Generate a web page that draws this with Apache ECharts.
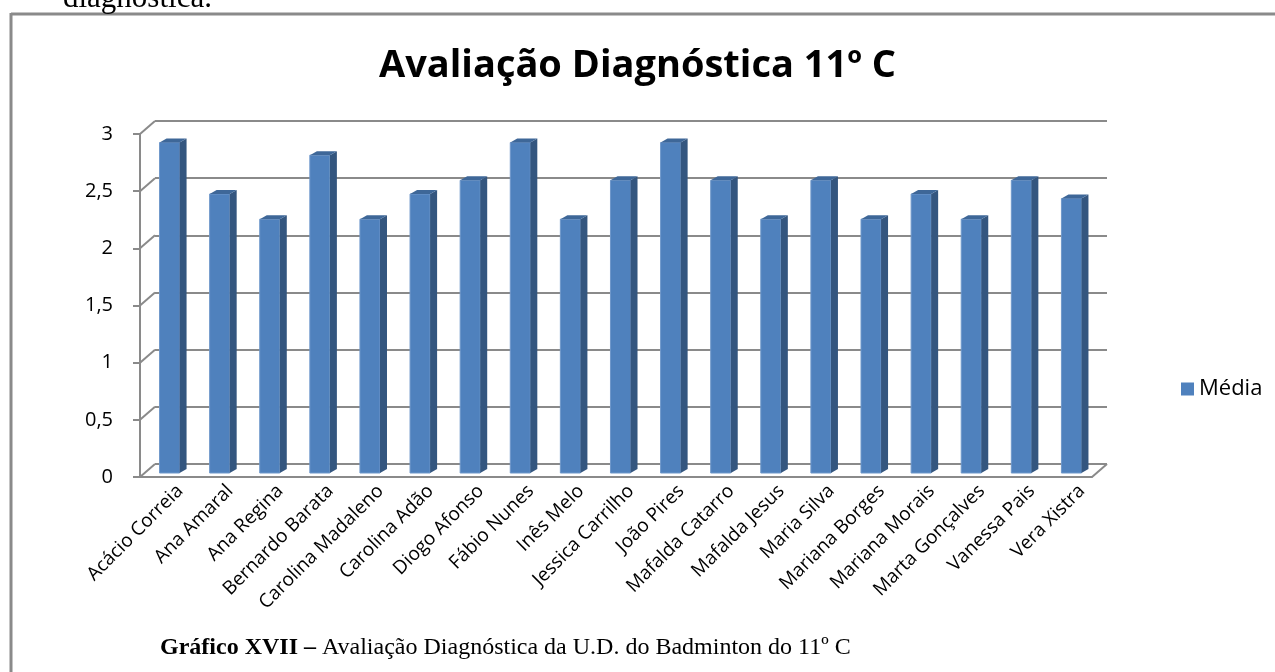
<!DOCTYPE html>
<html>
<head>
<meta charset="utf-8">
<script src="https://cdn.jsdelivr.net/npm/echarts@6/dist/echarts.min.js"></script>
<style>
  html, body { margin: 0; padding: 0; background: #fff; }
  #chart { width: 1275px; height: 672px; }
</style>
</head>
<body>
<div id="chart"></div>
<script>
// dados
const alunos = [
  "Acácio Correia", "Ana Amaral", "Ana Regina", "Bernardo Barata", "Carolina Madaleno",
  "Carolina Adão", "Diogo Afonso", "Fábio Nunes", "Inês Melo", "Jessica Carrilho",
  "João Pires", "Mafalda Catarro", "Mafalda Jesus", "Maria Silva", "Mariana Borges",
  "Mariana Morais", "Marta Gonçalves", "Vanessa Pais", "Vera Xistra"
];
const media = [
  2.89, 2.44, 2.22, 2.78, 2.22,
  2.44, 2.56, 2.89, 2.22, 2.56,
  2.89, 2.56, 2.22, 2.56, 2.22,
  2.44, 2.22, 2.56, 2.4
];
const yTicks = [0, 0.5, 1, 1.5, 2, 2.5, 3];

const chart = echarts.init(document.getElementById("chart"));

// profundidade da parede (efeito 3D do Excel)
const DX = 15, DY = -13;
const LINE = "#8a8a8a";
const labelFont = "'Open Sans', 'Noto Sans', sans-serif";
const serif = "'Liberation Serif', 'DejaVu Serif', serif";

// barra com face frontal, lateral e topo
function renderBar(params, api) {
  const i = api.value(0);
  const base = api.coord([i, 0]);
  const top = api.coord([i, api.value(1)]);
  const band = api.size([1, 0])[0];
  const w = band * 0.4;
  const sx = 4.5, sy = -4; // barra fica um pouco para dentro
  const bx = 7, by = -4;   // espessura da barra
  const x0 = base[0] - w / 2 + sx, x1 = x0 + w;
  const yb = base[1] + sy, yt = top[1] + sy;
  return {
    type: "group",
    children: [
      { type: "rect", shape: { x: x0, y: yt, width: w, height: yb - yt },
        style: { fill: "#4f81bd", stroke: "#6f98cb", lineWidth: 1 } },
      { type: "polygon", shape: { points: [[x1, yt], [x1 + bx, yt + by], [x1 + bx, yb + by], [x1, yb]] },
        style: { fill: "#34567f" } },
      { type: "polygon", shape: { points: [[x0, yt], [x0 + bx, yt + by], [x1 + bx, yt + by], [x1, yt]] },
        style: { fill: "#3e6798" } }
    ]
  };
}

// pequenas diagonais entre o eixo da frente e a parede de trás
function renderDiag(params, api) {
  const v = api.value(1);
  const p = api.coord([0, v]);
  const band = api.size([1, 0])[0];
  const x = p[0] - band / 2;
  const kids = [
    { type: "line", shape: { x1: x, y1: p[1], x2: x + DX, y2: p[1] + DY },
      style: { stroke: LINE, lineWidth: 2 } }
  ];
  if (v === 0) {
    const r = api.coord([alunos.length - 1, 0])[0] + band / 2;
    kids.push({ type: "line", shape: { x1: r, y1: p[1], x2: r + DX, y2: p[1] + DY },
      style: { stroke: LINE, lineWidth: 2 } });
  }
  return { type: "group", children: kids };
}

const option = {
  backgroundColor: "#fff",
  animation: false,
  title: {
    text: "Avaliação Diagnóstica 11º C",
    left: "center",
    top: 42,
    textStyle: { fontFamily: labelFont, fontSize: 38, fontWeight: "bold", color: "#000" }
  },
  legend: {
    data: ["Média"],
    left: 1176,
    top: 373,
    icon: "rect",
    itemWidth: 13,
    itemHeight: 13,
    itemGap: 6,
    textStyle: { fontFamily: labelFont, fontSize: 22, color: "#000" }
  },
  grid: [
    { left: 140, top: 134, width: 952, height: 343 },            // frente
    { left: 140 + DX, top: 134 + DY, width: 952, height: 343 }   // parede de trás
  ],
  xAxis: [
    {
      type: "category", gridIndex: 0, data: alunos,
      axisLine: { lineStyle: { color: LINE, width: 2 } },
      axisTick: { length: 6, lineStyle: { color: LINE, width: 2 } },
      axisLabel: { show: false }
    },
    {
      type: "category", gridIndex: 1, data: alunos,
      axisLine: { show: false },
      axisTick: { show: false },
      axisLabel: {
        interval: 0, rotate: 45, margin: 24,
        fontFamily: labelFont, fontSize: 19, color: "#000"
      }
    }
  ],
  yAxis: [
    {
      type: "value", gridIndex: 0, min: 0, max: 3, interval: 0.5,
      axisLine: { show: true, lineStyle: { color: LINE, width: 2 } },
      axisTick: { show: true, length: 7, lineStyle: { color: LINE, width: 2 } },
      axisLabel: {
        margin: 27, fontFamily: labelFont, fontSize: 20, color: "#000",
        formatter: v => String(v).replace(".", ",")
      },
      splitLine: { show: false }
    },
    {
      type: "value", gridIndex: 1, min: 0, max: 3, interval: 0.5,
      axisLine: { show: false },
      axisTick: { show: false },
      axisLabel: { show: false },
      splitLine: { show: true, lineStyle: { color: LINE, width: 2 } }
    }
  ],
  series: [
    {
      name: "diag", type: "custom", xAxisIndex: 0, yAxisIndex: 0,
      data: yTicks.map(v => [0, v]),
      renderItem: renderDiag, silent: true, z: 1
    },
    {
      name: "Média", type: "custom", xAxisIndex: 0, yAxisIndex: 0,
      data: media.map((v, i) => [i, v]),
      encode: { x: 0, y: 1 },
      itemStyle: { color: "#4f81bd" },
      renderItem: renderBar, z: 5
    }
  ],
  graphic: [
    // moldura
    { type: "line", shape: { x1: 11, y1: 14, x2: 1275, y2: 14 }, style: { stroke: "#8a8a8a", lineWidth: 3 } },
    { type: "line", shape: { x1: 11, y1: 13, x2: 11, y2: 672 }, style: { stroke: "#8a8a8a", lineWidth: 3 } },
    // texto cortado do documento, acima
    { type: "text", x: 63, y: 14,
      style: { text: "diagnóstica.", font: "31px " + serif, fill: "#000", verticalAlign: "bottom" } },
    // legenda da figura
    { type: "text", left: 160, top: 636,
      style: {
        text: "{b|Gráfico XVII –} Avaliação Diagnóstica da U.D. do Badminton do 11º C",
        fontFamily: serif, fontSize: 24, fill: "#000",
        rich: { b: { fontFamily: serif, fontSize: 24, fontWeight: "bold" } }
      } }
  ]
};

chart.setOption(option);
</script>
</body>
</html>
